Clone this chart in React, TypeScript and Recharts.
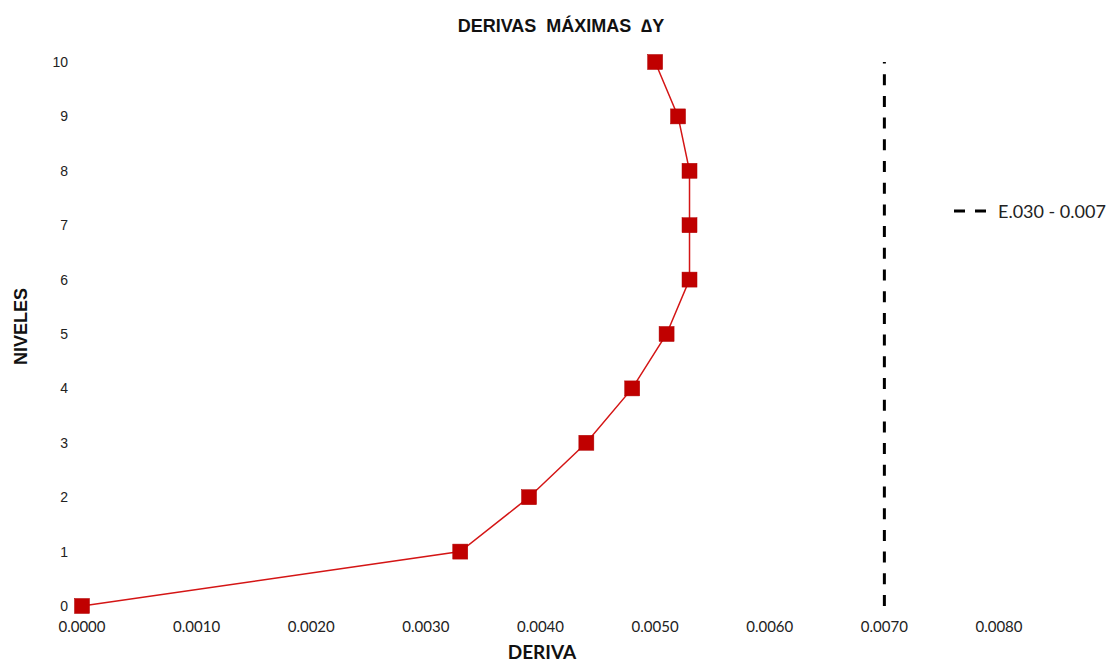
import { LineChart, Line, XAxis, YAxis } from 'recharts'

// level 0..10 and the max drift at each level
const levels = [0, 1, 2, 3, 4, 5, 6, 7, 8, 9, 10]
const drifts = [0, 0.0033, 0.0039, 0.0044, 0.0048, 0.0051, 0.0053, 0.0053, 0.0053, 0.0052, 0.005]

// E.030 limit line
const limitValue = 0.007
const limitLevels = [0, 10]
const limitName = 'E.030 - 0.007'

const xTicks = [0, 0.001, 0.002, 0.003, 0.004, 0.005, 0.006, 0.007, 0.008]
const yTicks = [0, 1, 2, 3, 4, 5, 6, 7, 8, 9, 10]

const drawPoints = levels.map((lv, i) => ({ x: drifts[i], y: lv }))
const limitPoints = limitLevels.map((lv) => ({ x: limitValue, y: lv }))

const RED = '#C00000'
const calibriLike = 'Lato, "Open Sans", sans-serif'
const arialLike = '"Liberation Sans", Arial, sans-serif'

const SquareDot = (props: any) => {
  const { cx, cy } = props
  if (cx == null || cy == null) return null
  return <rect x={cx - 7.5} y={cy - 7.5} width={15} height={15} fill={RED} stroke="#b00000" strokeWidth={0.5} />
}

export default function App() {
  return (
    <div style={{ position: 'absolute', left: 0, top: 0, width: 1108, height: 662, background: '#fff' }}>
      <div
        style={{
          position: 'absolute', left: 0, width: 1108, top: 16, textAlign: 'center',
          fontFamily: arialLike, fontWeight: 'bold', fontSize: 18, whiteSpace: 'pre', color: '#111',
          paddingLeft: 14, boxSizing: 'border-box',
        }}
      >
        {'DERIVAS  MÁXIMAS  ∆Y'}
      </div>
      <div
        style={{
          position: 'absolute', left: 0, top: 326, width: 44, height: 0,
          display: 'flex', justifyContent: 'center', alignItems: 'center',
        }}
      >
        <div
          style={{
            transform: 'rotate(-90deg)', fontFamily: arialLike, fontWeight: 'bold',
            fontSize: 18, color: '#111', whiteSpace: 'nowrap',
          }}
        >
          NIVELES
        </div>
      </div>
      <div
        style={{
          position: 'absolute', left: 0, width: 1108, top: 640, textAlign: 'center',
          fontFamily: calibriLike, fontWeight: 'bold', fontSize: 19, color: '#111',
          paddingRight: 24, boxSizing: 'border-box',
        }}
      >
        DERIVA
      </div>
      <div
        style={{
          position: 'absolute', left: 954, top: 200, display: 'flex', alignItems: 'center',
          fontFamily: calibriLike, fontSize: 18, color: '#222',
        }}
      >
        <svg width={34} height={10} style={{ marginRight: 10 }}>
          <line x1={0} y1={5} x2={32} y2={5} stroke="#000" strokeWidth={3} strokeDasharray="11 10" />
        </svg>
        <span style={{ whiteSpace: 'nowrap' }}>{limitName}</span>
      </div>
      <div style={{ position: 'absolute', left: 0, top: 0 }}>
        <LineChart width={1108} height={662} margin={{ top: 62, right: 109, bottom: 0, left: 0 }}>
          <XAxis
            dataKey="x"
            type="number"
            domain={[0, 0.008]}
            ticks={xTicks}
            tickFormatter={(v: number) => v.toFixed(4)}
            axisLine={false}
            tickLine={false}
            tick={{ fontFamily: calibriLike, fontSize: 15, fill: '#222', dy: 7 }}
            height={56}
          />
          <YAxis
            dataKey="y"
            type="number"
            domain={[0, 10]}
            ticks={yTicks}
            axisLine={false}
            tickLine={false}
            width={82}
            tick={{ fontFamily: arialLike, fontSize: 14, fill: '#222', dx: -6 }}
          />
          <Line
            data={limitPoints}
            dataKey="y"
            stroke="#000"
            strokeWidth={3}
            strokeDasharray="11 10.7"
            dot={false}
            activeDot={false}
            isAnimationActive={false}
            name={limitName}
          />
          <Line
            data={drawPoints}
            dataKey="y"
            stroke="#D41515"
            strokeWidth={1.5}
            dot={<SquareDot />}
            activeDot={false}
            isAnimationActive={false}
            name="Deriva"
          />
        </LineChart>
      </div>
    </div>
  )
}
